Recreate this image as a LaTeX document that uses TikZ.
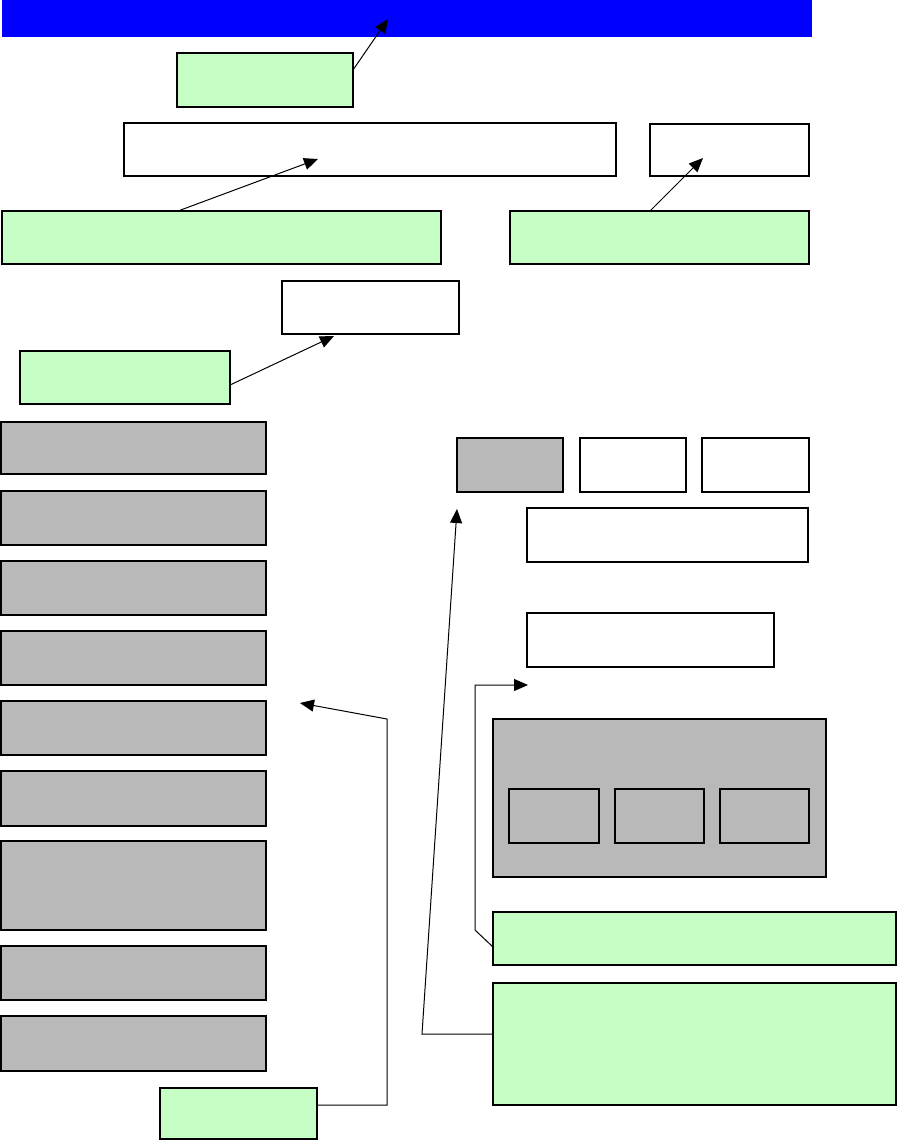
\documentclass[tikz,border=0pt]{standalone}
\usetikzlibrary{arrows.meta,calc,shadows}
\definecolor{lgreen}{RGB}{198,255,198}
\definecolor{lgray}{RGB}{185,185,185}
\begin{document}
\begin{tikzpicture}[x=1pt,y=-1pt,
  box/.style={anchor=north west, inner sep=0pt, outer sep=0pt},
  greenbox/.style={box, fill=lgreen, draw=black, line width=1.2pt},
  thickbox/.style={box, draw=black, line width=2.6pt, drop shadow={shadow xshift=1.2pt, shadow yshift=-1.2pt, fill=black!55, opacity=1}},
  whitebox/.style={thickbox, fill=white},
  graybox/.style={thickbox, fill=lgray},
  thinwhite/.style={box, fill=white, draw=black, line width=1.3pt},
  panel/.style={box, fill=lgray, draw=black, line width=1.5pt},
  innerbox/.style={box, fill=lgray, draw=black, line width=2.2pt, drop shadow={shadow xshift=1pt, shadow yshift=-1pt, fill=black!55, opacity=1}},
  arr/.style={draw=black, line width=1pt, -{Triangle[length=14pt,width=12pt]}},
  conn/.style={draw=black, line width=1pt}
]
\useasboundingbox (0,0) rectangle (897,1141);

% title bar
\node[box, fill=blue, minimum width=810pt, minimum height=37pt] (bar) at (2,0) {};

% top area
\node[greenbox, minimum width=176pt, minimum height=54pt] (g1) at (177,53) {};
\node[whitebox, minimum width=492pt, minimum height=53pt] (wA) at (124,123) {};
\node[thinwhite, minimum width=159pt, minimum height=52pt] (wB) at (650,124) {};
\node[greenbox, minimum width=439pt, minimum height=53pt] (g2) at (2,211) {};
\node[greenbox, minimum width=299pt, minimum height=53pt] (g3) at (510,211) {};
\node[whitebox, minimum width=177pt, minimum height=53pt] (wC) at (282,281) {};
\node[greenbox, minimum width=210pt, minimum height=53pt] (g4) at (20,351) {};

% left column
\node[graybox, minimum width=265pt, minimum height=52pt] (L1) at (1,422) {};
\node[graybox, minimum width=265pt, minimum height=54pt] (L2) at (1,491) {};
\node[graybox, minimum width=265pt, minimum height=54pt] (L3) at (1,561) {};
\node[graybox, minimum width=265pt, minimum height=54pt] (L4) at (1,631) {};
\node[graybox, minimum width=265pt, minimum height=54pt] (L5) at (1,701) {};
\node[graybox, minimum width=265pt, minimum height=55pt] (L6) at (1,771) {};
\node[graybox, minimum width=265pt, minimum height=89pt] (L7) at (1,841) {};
\node[graybox, minimum width=265pt, minimum height=54pt] (L8) at (1,946) {};
\node[graybox, minimum width=265pt, minimum height=55pt] (L9) at (1,1016) {};
\node[greenbox, minimum width=157pt, minimum height=51pt] (g5) at (160,1088) {};

% right side
\node[graybox, minimum width=106pt, minimum height=54pt] (s1) at (457,438) {};
\node[whitebox, minimum width=106pt, minimum height=54pt] (s2) at (580,438) {};
\node[whitebox, minimum width=107pt, minimum height=54pt] (s3) at (702,438) {};
\node[whitebox, minimum width=281pt, minimum height=54pt] (wD) at (527,508) {};
\node[whitebox, minimum width=247pt, minimum height=54pt] (wE) at (527,613) {};

\node[panel, minimum width=333pt, minimum height=158pt] (P) at (493,719) {};
\node[innerbox, minimum width=90pt, minimum height=54pt] (i1) at (509,789) {};
\node[innerbox, minimum width=89pt, minimum height=54pt] (i2) at (615,789) {};
\node[innerbox, minimum width=89pt, minimum height=54pt] (i3) at (720,789) {};

\node[greenbox, minimum width=403pt, minimum height=53pt] (g6) at (493,912) {};
\node[greenbox, minimum width=403pt, minimum height=122pt] (g7) at (493,983) {};

% free arrow ends
\coordinate (t1) at (388,19);
\coordinate (t2) at (318,159);
\coordinate (t3) at (703,158);
\coordinate (t4) at (334,336);
\coordinate (t5) at (300,703);
\coordinate (t6) at (457,509);
\coordinate (t7) at (528,685);
\coordinate (b5) at (387,1105);
\coordinate (c5) at (387,719);
\coordinate (b6) at (422,1034);
\coordinate (b7) at (475,930);
\coordinate (c7) at (475,685);

% connectors
\draw[arr] ($(g1.north east)+(0,17)$) -- (t1);
\draw[arr] ($(g2.north west)+(176,0)$) -- (t2);
\draw[arr] ($(g3.north west)+(140,0)$) -- (t3);
\draw[arr] ($(g4.north east)+(0,34)$) -- (t4);
\draw[arr] ($(g5.north east)+(0,17)$) -- (b5) -- (c5) -- (t5);
\draw[arr] ($(g7.north west)+(0,51)$) -- (b6) -- (t6);
\draw[arr] ($(g6.north west)+(0,35)$) -- (b7) -- (c7) -- (t7);
\end{tikzpicture}
\end{document}
